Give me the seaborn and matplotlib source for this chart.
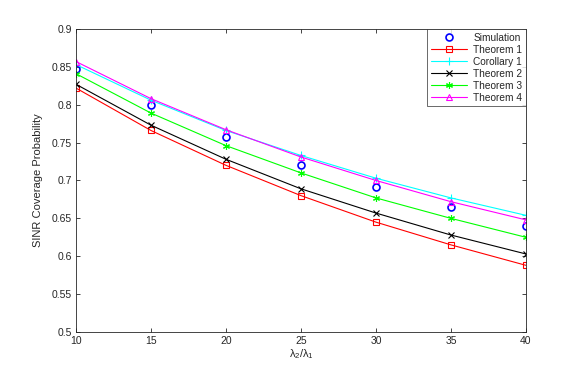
import matplotlib
matplotlib.use("Agg")
import matplotlib.pyplot as plt
import seaborn as sns
import pandas as pd

sns.set_theme(style="white")
plt.rcParams['font.family'] = ['Liberation Sans', 'DejaVu Sans']
plt.rcParams['mathtext.fontset'] = 'custom'
plt.rcParams['mathtext.rm'] = 'Liberation Sans'
plt.rcParams['mathtext.it'] = 'Liberation Sans'

ratio = [10, 15, 20, 25, 30, 35, 40]
simulation = [0.847, 0.800, 0.757, 0.720, 0.692, 0.665, 0.640]
theorem1 = [0.822, 0.766, 0.720, 0.680, 0.645, 0.615, 0.588]
corollary1 = [0.853, 0.806, 0.766, 0.733, 0.703, 0.677, 0.654]
theorem2 = [0.827, 0.773, 0.728, 0.689, 0.657, 0.628, 0.603]
theorem3 = [0.841, 0.789, 0.746, 0.710, 0.677, 0.650, 0.625]
theorem4 = [0.857, 0.808, 0.767, 0.731, 0.700, 0.672, 0.648]

series = [
    ("Simulation", simulation, "#0000ff", "o", False, 5.0),
    ("Theorem 1", theorem1, "#ff0000", "s", True, 4.0),
    ("Corollary 1", corollary1, "#00ffff", "+", True, 5.5),
    ("Theorem 2", theorem2, "#000000", "x", True, 4.5),
    ("Theorem 3", theorem3, "#00ff00", (6, 2, 0), True, 5.0),
    ("Theorem 4", theorem4, "#ff00ff", "^", True, 5.0),
]

fig = plt.figure(figsize=(5.81, 3.74), dpi=100)
ax = fig.add_axes([0.1308, 0.1123, 0.9053 - 0.1308, 0.9225 - 0.1123])

for name, vals, col, mk, line, ms in series:
    df = pd.DataFrame({"x": ratio, "y": vals})
    filled = mk in ("o", "s", "^")
    sns.lineplot(data=df, x="x", y="y", ax=ax, color=col, label=name,
                 linestyle="-" if line else "none", linewidth=0.8,
                 marker=mk, markersize=ms,
                 markerfacecolor="none" if filled else col,
                 markeredgecolor=col, markeredgewidth=1.2 if mk == "o" else 0.8)

ax.set_xlim(10, 40)
ax.set_ylim(0.5, 0.9)
ax.set_xticks(ratio)
ax.set_yticks([0.5, 0.55, 0.6, 0.65, 0.7, 0.75, 0.8, 0.85, 0.9])
ax.set_yticklabels(["0.5", "0.55", "0.6", "0.65", "0.7", "0.75", "0.8", "0.85", "0.9"])
ax.tick_params(direction="in", length=3, width=0.6, labelsize=7.5, colors="#262626",
               top=True, right=True, bottom=True, left=True, pad=3)
ax.tick_params(labeltop=False, labelright=False)
for s in ax.spines.values():
    s.set_color("#262626")
    s.set_linewidth(0.6)
ax.set_xlabel(r"$\lambda_2/\lambda_1$", fontsize=8, color="#262626", labelpad=1)
ax.set_ylabel("SINR Coverage Probability", fontsize=8, color="#262626", labelpad=6)

leg = ax.legend(loc="upper right", fontsize=7.3, frameon=True, fancybox=False,
                edgecolor="#262626", borderpad=0.35, labelspacing=0.2,
                handlelength=3.6, handletextpad=0.6, borderaxespad=0.0)
leg.get_frame().set_linewidth(0.6)

fig.savefig("out.png", dpi=100)
